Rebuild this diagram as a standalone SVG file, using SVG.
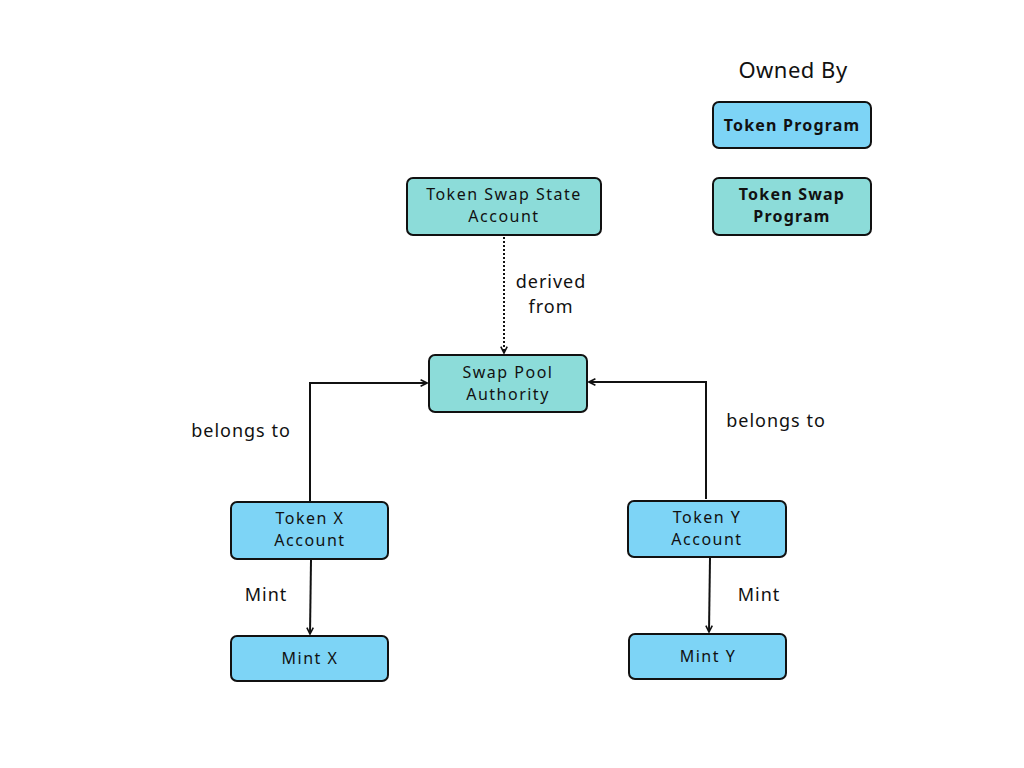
<svg xmlns="http://www.w3.org/2000/svg" width="1024" height="768" viewBox="0 0 1024 768">
<style>
.teal{fill:#8cdcd9;stroke:#111;stroke-width:2}
.blue{fill:#7dd4f6;stroke:#111;stroke-width:2}
.t{font-family:"Noto Sans",sans-serif;font-size:16px;fill:#111;text-anchor:middle;letter-spacing:1.5px}
.b{font-family:"Noto Sans",sans-serif;font-size:16px;font-weight:bold;fill:#111;text-anchor:middle;letter-spacing:1.2px}
.l{font-family:"Noto Sans",sans-serif;font-size:18px;fill:#111;text-anchor:middle;letter-spacing:1px}
.c{fill:none;stroke:#111;stroke-width:2}
</style>
<defs>
<marker id="ah" viewBox="0 0 10 10" refX="9" refY="5" markerWidth="8" markerHeight="8" markerUnits="userSpaceOnUse" orient="auto">
<path d="M1,1 L9,5 L1,9" fill="none" stroke="#111" stroke-width="2"/>
</marker>
</defs>
<rect width="1024" height="768" fill="#fff"/>
<text class="l" x="793" y="78" style="font-size:22px;letter-spacing:0.5px">Owned By</text>
<g id="legend-token-program"><rect class="blue" x="713" y="102" width="158" height="46" rx="6"/><text class="b" x="792" y="131">Token Program</text></g>
<g id="legend-token-swap-program"><rect class="teal" x="713" y="178" width="158" height="57" rx="6"/><text class="b" x="792" y="200">Token Swap</text><text class="b" x="792" y="222">Program</text></g>
<g id="state"><rect class="teal" x="407" y="178" width="194" height="57" rx="6"/><text class="t" x="504" y="200">Token Swap State</text><text class="t" x="504" y="222">Account</text></g>
<g id="authority"><rect class="teal" x="429" y="355" width="158" height="57" rx="6"/><text class="t" x="508" y="378">Swap Pool</text><text class="t" x="508" y="400">Authority</text></g>
<g id="tokenx"><rect class="blue" x="231" y="502" width="157" height="57" rx="6"/><text class="t" x="310" y="524">Token X</text><text class="t" x="310" y="546">Account</text></g>
<g id="tokeny"><rect class="blue" x="628" y="501" width="158" height="56" rx="6"/><text class="t" x="707" y="523">Token Y</text><text class="t" x="707" y="545">Account</text></g>
<g id="mintx"><rect class="blue" x="231" y="636" width="157" height="45" rx="6"/><text class="t" x="310" y="664">Mint X</text></g>
<g id="minty"><rect class="blue" x="629" y="634" width="157" height="45" rx="6"/><text class="t" x="708" y="662">Mint Y</text></g>
<g id="connectors">
<path class="c" d="M504,237 L504,353" stroke-dasharray="2,2" marker-end="url(#ah)"/>
<path class="c" d="M310,501 L310,383 L427,383" marker-end="url(#ah)"/>
<path class="c" d="M706,499 L706,382 L589,382" marker-end="url(#ah)"/>
<path class="c" d="M311,560 L310,634" marker-end="url(#ah)"/>
<path class="c" d="M710,558 L709,632" marker-end="url(#ah)"/>
<text class="l" x="551" y="288">derived</text>
<text class="l" x="551" y="313">from</text>
<text class="l" x="241" y="437">belongs to</text>
<text class="l" x="776" y="427">belongs to</text>
<text class="l" x="266" y="601">Mint</text>
<text class="l" x="759" y="601">Mint</text>
</g>
</svg>
